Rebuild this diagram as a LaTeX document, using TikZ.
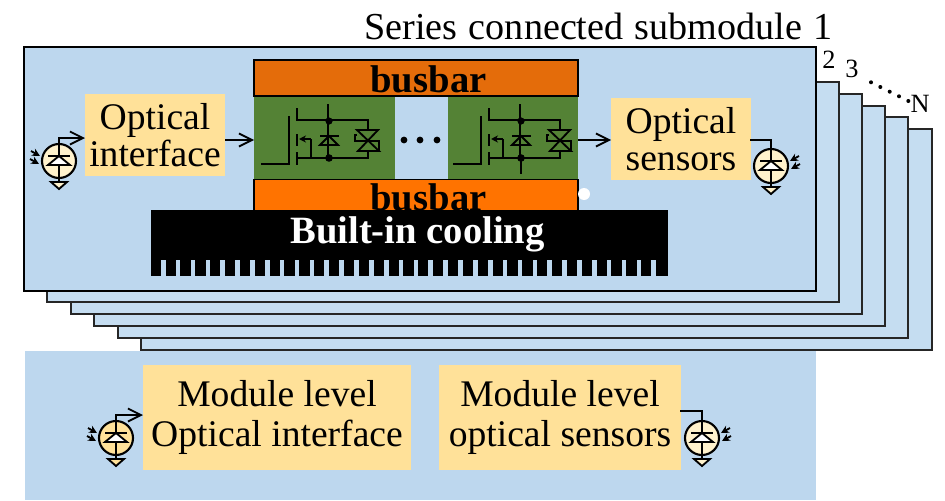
\documentclass[tikz,border=0pt]{standalone}
\usepackage{fontspec}
\setmainfont{Liberation Serif}
\usetikzlibrary{arrows.meta}
\definecolor{mainblue}{HTML}{BDD7EE}
\definecolor{stackblue}{HTML}{C5DDF1}
\definecolor{labelyellow}{HTML}{FFE199}
\definecolor{paleface}{HTML}{FFF2CC}
\definecolor{switchgreen}{HTML}{548235}
\definecolor{barorange}{HTML}{E46C0A}
\definecolor{brightorange}{HTML}{FF7300}
\tikzset{
  stackbox/.style={draw=black!85,line width=1.1pt,fill=stackblue},
  labelbox/.style={fill=labelyellow,inner sep=0pt,outer sep=0pt,align=center,font=\fontsize{21.4}{21.4}\selectfont},
  switchbox/.style={fill=switchgreen,inner sep=0pt,outer sep=0pt,minimum height=1.64cm},
  barbox/.style={draw=black,line width=1pt,inner sep=0pt,outer sep=0pt,minimum width=6.48cm},
  bartext/.style={inner sep=0pt,font=\fontsize{22}{22}\selectfont\bfseries},
  wire/.style={line width=1.05pt},
  pics/photodiode/.style 2 args={code={
    \draw[line width=1.2pt,fill=#2] (0,0) node[circle,draw,line width=1.2pt,fill=#2,minimum size=0.68cm,inner sep=0pt] (-c) {};
    \draw[wire] (0,-17) -- (0,21);
    \draw[wire,fill=white] (-11,4) -- (11,4) -- (0,-5) -- cycle;
    \draw[wire] (-11,-5) -- (11,-5);
    \draw[wire,fill=#2] (-8,21) -- (8,21) -- (0,28) -- cycle;
    \draw[wire,-{Stealth[length=4.5pt,width=4.5pt]}] ({#1*28},-10) -- ({#1*19},-5);
    \draw[wire,-{Stealth[length=4.5pt,width=4.5pt]}] ({#1*29},-2) -- ({#1*20},3);
  }},
  pics/mosswitch/.style={code={
    \draw[wire] (6,69) -- (34,69) -- (34,21);
    \draw[wire] (42,13) -- (42,25) -- (113,25) -- (113,35);
    \draw[wire] (42,57) -- (42,70);
    \draw[wire] (42,63) -- (113,63) -- (113,56);
    \draw[line width=1.5pt] (42,39) -- (42,51);
    \draw[wire,-{Stealth[length=4pt,width=4pt]}] (56,44) -- (44,44);
    \draw[wire] (56,44) -- (56,63);
    \draw[wire] (73,9) -- (73,63);
    \fill (74,26) circle (3.6);
    \fill (74,63) circle (3.8);
    \draw[wire] (65,41) -- (84,41);
    \draw[wire] (65,50) -- (83,50) -- (74,41) -- cycle;
    \draw[wire] (102,35) -- (123,35) -- (103,56) -- (124,56) -- cycle;
    \draw[wire] (102,40) -- (100,40) -- (100,46) -- (124,46) -- (124,56);
  }}
}

\begin{document}
\begin{tikzpicture}[x=0.02cm,y=-0.02cm,>={Straight Barb[length=2.6mm,width=2.6mm]}]
	\useasboundingbox (0,0) rectangle (945,500);

	\draw (598.5,26) node[font=\fontsize{21.7}{22}\selectfont] (title) {Series\hspace{1pt} connected\hspace{1pt} submodule\hspace{1pt} 1};
	\draw (829,60) node[font=\fontsize{15}{16}\selectfont] (numtwo) {2};
	\draw (852,69) node[font=\fontsize{15}{16}\selectfont] (numthree) {3};
	\draw (920,104) node[font=\fontsize{15}{16}\selectfont] (numlast) {N};
	\foreach \x/\y in {871/82.3,880.3/87,889.7/91.7,899/96.3,908.3/101}
		\fill (\x,\y) circle (2);

	\draw[stackbox] (141,129) rectangle (932,350);
	\draw[stackbox] (118,117) rectangle (908,338);
	\draw[stackbox] (94,106) rectangle (885,326);
	\draw[stackbox] (71,94) rectangle (862,314);
	\draw[stackbox] (47,82) rectangle (839,302);
	\draw[line width=1.2pt,fill=mainblue] (24,47) rectangle (816,291);

	\fill[mainblue] (25,351) rectangle (816,500);

	\draw (416,78) node[barbox,fill=barorange,minimum height=0.72cm] (bartop) {};
	\draw (428.5,79) node[bartext] (bartoptext) {busbar};
	\draw (324.5,138) node[switchbox,minimum width=2.82cm] (swa) {};
	\draw (513,138) node[switchbox,minimum width=2.6cm] (swb) {};
	\draw (416,195) node[barbox,fill=brightorange,minimum height=0.62cm] (barbot) {};
	\draw (428.5,197) node[bartext] (barbottext) {busbar};
	\fill[white] (584,194) circle (6);

	\foreach \x/\y in {404/140,420/140,437/140}
		\fill (\x,\y) circle (3.4);
	\pic (swl) at (255,95) {mosswitch};
	\pic (swr) at (447,95) {mosswitch};
	\draw[wire] (521,158) -- (521,174);

	\draw (409.5,243) node[fill=black,inner sep=0pt,outer sep=0pt,minimum width=10.34cm,minimum height=1.32cm] (cool) {};
	\foreach \i in {0,...,33}
		\fill[mainblue] ({161+14.86*\i},260) rectangle +(4.6,16);
	\draw (417.5,234) node[inner sep=0pt,text=white,font=\fontsize{22}{22}\selectfont\bfseries] (cooltext) {Built-in cooling};

	\draw (155,135) node[labelbox,minimum width=2.8cm,minimum height=1.64cm] (oif) {Optical\\interface};
	\draw (681,139) node[labelbox,minimum width=2.8cm,minimum height=1.64cm] (osn) {Optical\\sensors};
	\draw (277,417.5) node[labelbox,minimum width=5.36cm,minimum height=2.1cm] (mif) {Module level\\[1.5pt]Optical interface};
	\draw (560,417.5) node[labelbox,minimum width=4.84cm,minimum height=2.1cm] (msn) {Module level\\[1.5pt]optical sensors};

	\coordinate (oifin) at (85,138);
	\coordinate (oifout) at (225,140);
	\coordinate (swain) at (254,140);
	\coordinate (swbout) at (578,140);
	\coordinate (osnin) at (611,140);
	\coordinate (osnout) at (750,140);
	\coordinate (mifin) at (143,415);
	\coordinate (msnout) at (680,411);

	\pic (leda) at (59,161) {photodiode={-1}{paleface}};
	\pic (ledb) at (771,166) {photodiode={1}{paleface}};
	\pic (ledc) at (116,438) {photodiode={-1}{labelyellow}};
	\pic (ledd) at (702,438) {photodiode={1}{paleface}};

	\draw[wire,->] (oifout) -- (swain);
	\draw[wire,->] (swbout) -- (osnin);
	\draw[wire,->] (leda-c.north) |- (oifin);
	\draw[wire] (osnout) -| (ledb-c.north);
	\draw[wire,->] (ledc-c.north) |- (mifin);
	\draw[wire] (msnout) -| (ledd-c.north);
\end{tikzpicture}
\end{document}
